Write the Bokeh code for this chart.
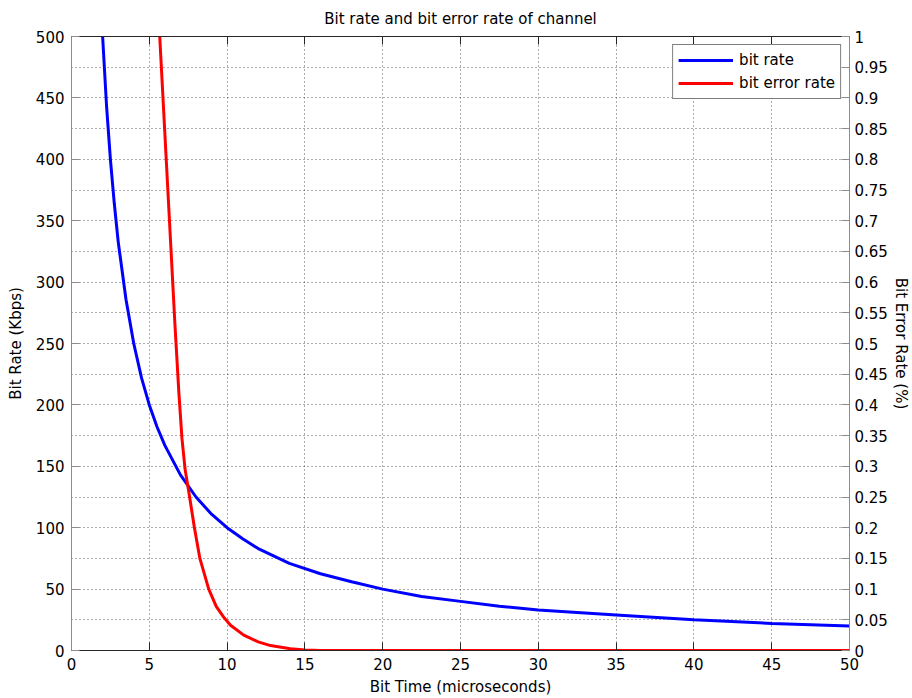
from bokeh.plotting import figure
from bokeh.models import (Range1d, LinearAxis, FixedTicker, SingleIntervalTicker,
                          NumeralTickFormatter, Legend, LegendItem, CustomJSTickFormatter)
from bokeh.embed import file_html
from bokeh.resources import INLINE

# ---- data ----
bit_time = [2, 2.25, 2.5, 2.75, 3, 3.5, 4, 4.5, 5, 5.5, 6, 7, 8, 9, 10, 11, 12, 14,
            16, 18, 20, 22.5, 25, 27.5, 30, 35, 40, 45, 50]
bit_rate = [500, 444, 400, 364, 333, 286, 250, 222, 200, 182, 167, 143, 125, 111, 100,
            91, 83, 71, 62.5, 56, 50, 44, 40, 36, 33, 29, 25, 22, 20]

ber_time = [5.67, 5.9, 6.15, 6.4, 6.65, 6.9, 7.1, 7.3, 7.54, 7.9, 8.25, 8.82,
            9.3, 9.79, 10.22, 11.07, 12.0, 12.79, 14.07, 15, 16, 20, 30, 40, 50]
ber_vals = [1.0, 0.89, 0.77, 0.65, 0.53, 0.42, 0.345, 0.295, 0.258, 0.20, 0.15, 0.10,
            0.072, 0.054, 0.041, 0.025, 0.014, 0.008, 0.003, 0.001, 0.0, 0.0, 0.0, 0.0, 0.0]

x_ticks = [0, 5, 10, 15, 20, 25, 30, 35, 40, 45, 50]
left_ticks = [0, 50, 100, 150, 200, 250, 300, 350, 400, 450, 500]
right_ticks = [0, 0.05, 0.1, 0.15, 0.2, 0.25, 0.3, 0.35, 0.4, 0.45, 0.5, 0.55, 0.6,
               0.65, 0.7, 0.75, 0.8, 0.85, 0.9, 0.95, 1]

FONT = "DejaVu Sans"
FS = "15px"

p = figure(width=912, height=698, output_backend="svg", toolbar_location=None,
           x_range=Range1d(0, 50), y_range=Range1d(0, 500),
           min_border_left=71, min_border_right=63, min_border_top=36, min_border_bottom=48,
           title="Bit rate and bit error rate of channel")
p.extra_y_ranges = {"ber": Range1d(0, 1)}
p.outline_line_color = None
p.background_fill_color = "white"

p.title.align = "center"
p.title.vertical_align = "middle"
p.title.text_font = FONT
p.title.text_font_size = FS
p.title.text_font_style = "normal"
p.title.text_color = "black"
p.title.standoff = 15

def style_axis(ax, line_color):
    ax.major_tick_in = 8
    ax.major_tick_out = 0
    ax.minor_tick_in = 0
    ax.minor_tick_out = 0
    ax.axis_line_color = line_color
    ax.major_tick_line_color = line_color
    ax.major_label_text_font = FONT
    ax.major_label_text_font_size = FS
    ax.major_label_text_color = "black"
    ax.axis_label_text_font = FONT
    ax.axis_label_text_font_size = FS
    ax.axis_label_text_font_style = "normal"
    ax.axis_label_text_color = "black"

xa = p.xaxis[0]
xa.ticker = FixedTicker(ticks=x_ticks)
xa.axis_label = "Bit Time (microseconds)"
style_axis(xa, "#262626")
xa.major_label_standoff = 7
xa.axis_label_standoff = 5

ya = p.yaxis[0]
ya.ticker = FixedTicker(ticks=left_ticks)
ya.axis_label = "Bit Rate (Kbps)"
style_axis(ya, "#8c8c8c")
ya.major_label_standoff = 7
ya.axis_label_standoff = 8

ra = LinearAxis(y_range_name="ber", ticker=FixedTicker(ticks=right_ticks),
                formatter=NumeralTickFormatter(format="0.[00]"),
                axis_label="Bit Error Rate (%)")
style_axis(ra, "#8c8c8c")
ra.major_label_standoff = 5
ra.axis_label_standoff = 1
p.add_layout(ra, "right")

ta = LinearAxis(ticker=FixedTicker(ticks=x_ticks),
                formatter=CustomJSTickFormatter(code="return ''"))
style_axis(ta, "#262626")
ta.major_label_text_font_size = "0px"
ta.major_label_standoff = 0
p.add_layout(ta, "above")

p.xgrid.ticker = FixedTicker(ticks=x_ticks)
p.ygrid.ticker = SingleIntervalTicker(interval=25, num_minor_ticks=0)
for g in (p.xgrid, p.ygrid):
    g.grid_line_color = "#222222"
    g.grid_line_alpha = 0.75
    g.grid_line_dash = "1 3"
    g.grid_line_width = 1

r1 = p.line(bit_time, bit_rate, line_color="#0000ff", line_width=3)
r2 = p.line(ber_time, ber_vals, y_range_name="ber", line_color="#ff0000", line_width=3)

legend = Legend(items=[LegendItem(label="bit rate", renderers=[r1]),
                       LegendItem(label="bit error rate", renderers=[r2])],
                location="top_right")
legend.margin = 8
legend.border_line_color = "black"
legend.border_line_width = 1
legend.background_fill_color = "white"
legend.background_fill_alpha = 1
legend.label_text_font = FONT
legend.label_text_font_size = FS
legend.label_text_color = "black"
legend.glyph_width = 55
legend.glyph_height = 20
legend.label_height = 20
legend.label_standoff = 6
legend.spacing = 3
legend.padding = 5
p.add_layout(legend)

open("out.html", "w").write(file_html(p, INLINE))
